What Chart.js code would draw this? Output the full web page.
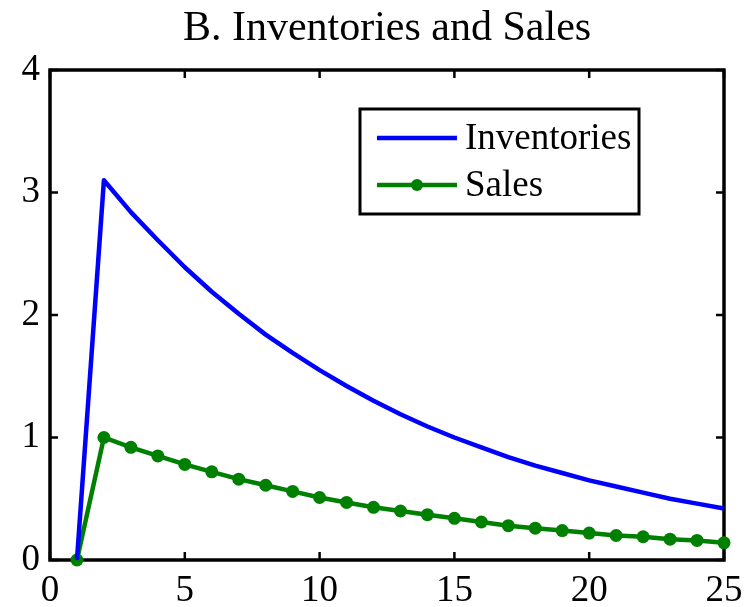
<!DOCTYPE html>
<html>
<head>
<meta charset="utf-8">
<script src="https://cdn.jsdelivr.net/npm/chart.js@4/dist/chart.umd.min.js"></script>
<style>
html,body{margin:0;padding:0;background:#fff;}
#wrap{width:753px;height:607px;}
</style>
</head>
<body>
<div id="wrap"><canvas id="c" width="753" height="607"></canvas></div>
<script>
const periods = [1,2,3,4,5,6,7,8,9,10,11,12,13,14,15,16,17,18,19,20,21,22,23,24,25];
const inventories = [0,3.10,2.84,2.61,2.39,2.19,2.01,1.84,1.69,1.55,1.42,1.30,1.19,1.09,1.00,0.92,0.84,0.77,0.71,0.65,0.60,0.55,0.50,0.46,0.42];
const sales = [0,1.00,0.92,0.85,0.78,0.72,0.66,0.61,0.56,0.51,0.47,0.43,0.40,0.37,0.34,0.31,0.28,0.26,0.24,0.22,0.20,0.19,0.17,0.16,0.14];
const xTicks = [0,5,10,15,20,25];
const yTicks = [0,1,2,3,4];
const titleText = 'B. Inventories and Sales';
const seriesNames = ['Inventories','Sales'];

const SERIF = '"Liberation Serif", "Times New Roman", serif';

const titlePlugin = {
  id: 'plotTitle',
  afterDraw(chart) {
    const ctx = chart.ctx, a = chart.chartArea;
    ctx.save();
    ctx.fillStyle = '#000';
    ctx.font = '42px ' + SERIF;
    ctx.textAlign = 'center';
    ctx.textBaseline = 'alphabetic';
    ctx.fillText(titleText, (a.left + a.right) / 2, 40);
    ctx.restore();
  }
};

const framePlugin = {
  id: 'frame',
  beforeDatasetsDraw(chart) {
    const ctx = chart.ctx, a = chart.chartArea;
    const xs = chart.scales.x, ys = chart.scales.y;
    ctx.save();
    ctx.strokeStyle = '#000';
    ctx.lineWidth = 2.5;
    const tl = 8;
    ctx.beginPath();
    xTicks.forEach(v => {
      const p = xs.getPixelForValue(v);
      ctx.moveTo(p, a.bottom); ctx.lineTo(p, a.bottom - tl);
      ctx.moveTo(p, a.top); ctx.lineTo(p, a.top + tl);
    });
    yTicks.forEach(v => {
      const p = ys.getPixelForValue(v);
      ctx.moveTo(a.left, p); ctx.lineTo(a.left + tl, p);
      ctx.moveTo(a.right, p); ctx.lineTo(a.right - tl, p);
    });
    ctx.stroke();
    ctx.lineWidth = 3.5;
    ctx.strokeRect(a.left, a.top, a.right - a.left, a.bottom - a.top);
    ctx.restore();
  }
};

const legendPlugin = {
  id: 'boxLegend',
  afterDatasetsDraw(chart) {
    const ctx = chart.ctx;
    const x0 = 360, y0 = 109, w = 279, h = 105;
    ctx.save();
    ctx.fillStyle = '#fff';
    ctx.fillRect(x0, y0, w, h);
    ctx.strokeStyle = '#000';
    ctx.lineWidth = 3;
    ctx.strokeRect(x0, y0, w, h);
    const rows = [138, 185];
    chart.data.datasets.forEach((ds, i) => {
      const y = rows[i];
      ctx.strokeStyle = ds.borderColor;
      ctx.lineWidth = ds.borderWidth;
      ctx.beginPath();
      ctx.moveTo(377, y); ctx.lineTo(457, y);
      ctx.stroke();
      if (ds.pointRadius > 0) {
        ctx.fillStyle = ds.pointBackgroundColor;
        ctx.beginPath();
        ctx.arc(417, y, 6, 0, Math.PI * 2);
        ctx.fill();
      }
      ctx.fillStyle = '#000';
      ctx.font = '37px ' + SERIF;
      ctx.textBaseline = 'middle';
      ctx.textAlign = 'left';
      ctx.fillText(ds.label, 465, y + 1);
    });
    ctx.restore();
  }
};

new Chart(document.getElementById('c'), {
  type: 'line',
  data: {
    datasets: [
      {
        label: seriesNames[0],
        data: periods.map((p, i) => ({x: p, y: inventories[i]})),
        borderColor: '#0000ff',
        backgroundColor: '#0000ff',
        borderWidth: 4.5,
        pointRadius: 0,
        pointHoverRadius: 0,
        tension: 0,
        borderJoinStyle: 'round',
        clip: false
      },
      {
        label: seriesNames[1],
        data: periods.map((p, i) => ({x: p, y: sales[i]})),
        borderColor: '#008000',
        backgroundColor: '#008000',
        pointBackgroundColor: '#008000',
        pointBorderColor: '#008000',
        borderWidth: 4.5,
        pointRadius: 6.5,
        pointBorderWidth: 0,
        pointHoverRadius: 6.5,
        tension: 0,
        clip: false
      }
    ]
  },
  options: {
    responsive: false,
    animation: false,
    devicePixelRatio: 1,
    layout: { padding: { left: 0, right: 29, top: 70, bottom: 0 } },
    plugins: {
      legend: { display: false },
      tooltip: { enabled: false },
      title: { display: false }
    },
    scales: {
      x: {
        type: 'linear',
        min: 0, max: 25,
        afterBuildTicks(s) { s.ticks = xTicks.map(v => ({value: v})); },
        afterFit(s) { s.height = 47; },
        grid: { display: false, drawTicks: false },
        border: { display: false },
        ticks: {
          color: '#000',
          font: { family: SERIF, size: 37 },
          padding: 9,
          maxRotation: 0,
          autoSkip: false
        }
      },
      y: {
        type: 'linear',
        min: 0, max: 4,
        afterBuildTicks(s) { s.ticks = yTicks.map(v => ({value: v})); },
        afterFit(s) { s.width = 50; },
        grid: { display: false, drawTicks: false },
        border: { display: false },
        ticks: {
          color: '#000',
          font: { family: SERIF, size: 37 },
          padding: 10,
          autoSkip: false
        }
      }
    }
  },
  plugins: [framePlugin, legendPlugin, titlePlugin]
});
</script>
</body>
</html>
